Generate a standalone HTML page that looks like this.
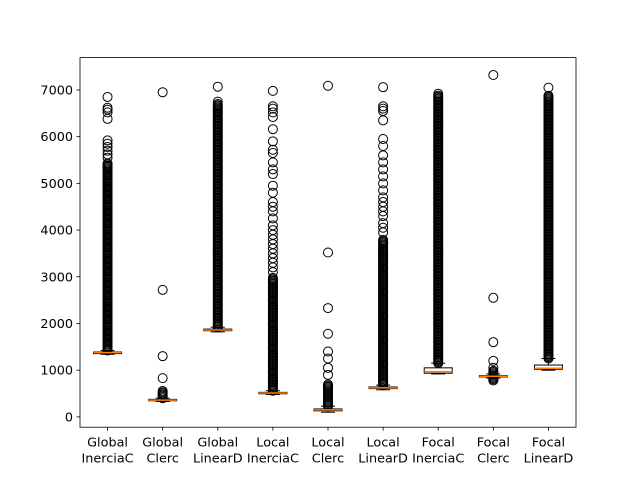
<!DOCTYPE html>
<html><head><meta charset="utf-8"><style>
body{margin:0;background:#fff}
svg text{font-family:"DejaVu Sans","Liberation Sans",sans-serif;font-size:12.8px;fill:#000}
</style></head><body>
<svg id="chart" width="640" height="480" xmlns="http://www.w3.org/2000/svg">
<rect width="640" height="480" fill="#fff"/>
<g id="plot"></g>
<rect x="80" y="57.6" width="496" height="369.6" fill="none" stroke="#000" stroke-width="0.8"/>
</svg>
<script>
const categories=["Global\nInerciaC","Global\nClerc","Global\nLinearD","Local\nInerciaC","Local\nClerc","Local\nLinearD","Focal\nInerciaC","Focal\nClerc","Focal\nLinearD"];
const q1=[1355,345,1845,495,130,605,935,855,1020];
const medians=[1375,360,1860,510,150,620,970,870,1040];
const q3=[1390,375,1880,525,170,640,1050,885,1110];
const whiskLo=[1340,330,1820,480,100,580,920,830,1000];
const whiskHi=[1420,400,1920,560,230,680,1150,920,1250];
const denseLo=[1420,400,1920,560,230,680,1150,780,1250];
const denseHi=[5450,560,6720,3000,700,3800,6880,1000,6900];
const scattered=[
[6850,6620,6580,6520,6380,5920,5850,5780,5700,5620,5550],
[830,1300,2720,6950],
[7070,6750],
[6980,6650,6600,6520,6420,6160,5900,5720,5650,5450,5300,5200,4950,4800,4600,4500,4400,4250,4100,4000,3900,3800,3700,3600,3500,3400,3300,3200,3100],
[900,1050,1250,1400,1780,2330,3520,7090],
[7060,6650,6600,6550,6350,5950,5800,5600,5450,5300,5150,5000,4850,4700,4600,4500,4400,4300,4150,4050,3950],
[6920],
[1050,1200,1600,2550,7320],
[7050]
];
const yTicks=[0,1000,2000,3000,4000,5000,6000,7000];
const yMin=-221,yMax=7693;
const L=80,R=576,T=57.6,B=427.2;
const ys=v=>B-(v-yMin)/(yMax-yMin)*(B-T);
const xs=i=>L+(i+0.5)*(R-L)/categories.length;
const NS="http://www.w3.org/2000/svg";
const g=document.getElementById('plot');
function mk(tag,attrs,parent){const e=document.createElementNS(NS,tag);for(const k in attrs)e.setAttribute(k,attrs[k]);(parent||g).appendChild(e);return e;}
yTicks.forEach(t=>{
  const y=ys(t);
  const tk=mk('line',{x1:L-3.5,x2:L,y1:y,y2:y,stroke:'#000','stroke-width':0.8});
  
  
  const tx=mk('text',{x:L-7,y:y+4.5,'text-anchor':'end'});tx.textContent=t;
  
  
});
categories.forEach((c,i)=>{
  const x=xs(i),hw=14;
  const grp=mk('g',{});
  
  
  const circ=v=>mk('circle',{cx:x,cy:ys(v),r:4.5,fill:'none',stroke:'#000','stroke-width':1},grp);
  const pxStep=1.2;
  for(let y=ys(denseLo[i]);y>=ys(denseHi[i]);y-=pxStep){mk('circle',{cx:x,cy:y,r:4.5,fill:'none',stroke:'#000','stroke-width':1},grp);}
  scattered[i].forEach(v=>circ(v));
  mk('line',{x1:x,x2:x,y1:ys(q3[i]),y2:ys(whiskHi[i]),stroke:'#000','stroke-width':1},grp);
  mk('line',{x1:x,x2:x,y1:ys(q1[i]),y2:ys(whiskLo[i]),stroke:'#000','stroke-width':1},grp);
  mk('line',{x1:x-7,x2:x+7,y1:ys(whiskHi[i]),y2:ys(whiskHi[i]),stroke:'#000','stroke-width':1},grp);
  mk('line',{x1:x-7,x2:x+7,y1:ys(whiskLo[i]),y2:ys(whiskLo[i]),stroke:'#000','stroke-width':1},grp);
  mk('rect',{x:x-hw,y:ys(q3[i]),width:2*hw,height:Math.max(1,ys(q1[i])-ys(q3[i])),fill:'#fff',stroke:'#000','stroke-width':1},grp);
  mk('line',{x1:x-hw,x2:x+hw,y1:ys(medians[i]),y2:ys(medians[i]),stroke:'#ff7f0e','stroke-width':1.5},grp);
  const tk=mk('line',{x1:x,x2:x,y1:B,y2:B+3.5,stroke:'#000','stroke-width':0.8});
  
  
  const parts=c.split('\n');
  parts.forEach((p,j)=>{
    const tx=mk('text',{x:x,y:B+19.5+j*16,'text-anchor':'middle'});tx.textContent=p;
    
    
  });
});
</script>
</body></html>
